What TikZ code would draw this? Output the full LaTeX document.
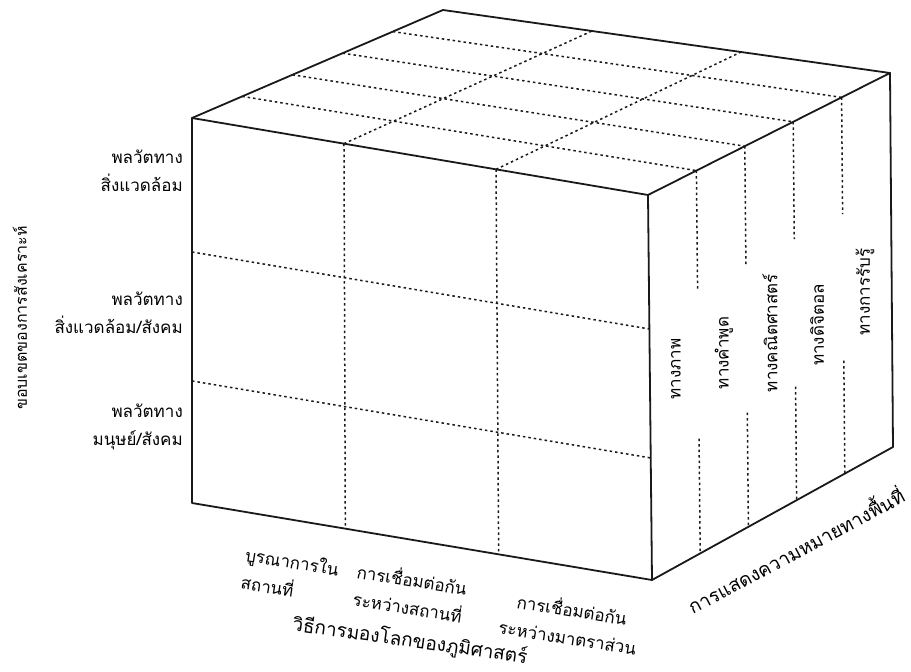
\documentclass[tikz,border=0pt]{standalone}
\usepackage{fontspec}
\newfontfamily\thaifont[Script=Thai]{Loma}
\usetikzlibrary{calc}
\begin{document}
\begin{tikzpicture}[x=1pt,y=-1pt,
  edge/.style={line width=1.8pt, black!90, line cap=round, line join=round},
  gridline/.style={line width=1.5pt, black!90, dash pattern=on 2.5pt off 3pt},
  lbl/.style={font=\thaifont\fontsize{17}{28}\selectfont, inner sep=0pt, align=center, text=black},
]
\useasboundingbox (0,0) rectangle (911,672);
% cube corners
\coordinate (FTL) at (192,118);
\coordinate (FTR) at (648,195);
\coordinate (FBL) at (192,503);
\coordinate (FBR) at (652,580);
\coordinate (BTL) at (443,10);
\coordinate (BTR) at (890,73);
\coordinate (BBR) at (893,447);
% front face grid
\foreach \f in {0.3333,0.6667}
  \draw[gridline] ($(FTL)!\f!(FTR)$) -- ($(FBL)!\f!(FBR)$);
\foreach \f in {0.348,0.683}
  \draw[gridline] ($(FTL)!\f!(FBL)$) -- ($(FTR)!\f!(FBR)$);
% top face grid
\foreach \f in {0.2,0.4,0.6,0.8}
  \draw[gridline] ($(FTL)!\f!(BTL)$) -- ($(FTR)!\f!(BTR)$);
\foreach \f in {0.3333,0.6667}
  \draw[gridline] ($(FTL)!\f!(FTR)$) -- ($(BTL)!\f!(BTR)$);
% right face partial lines
\foreach \f in {0.2,0.4,0.6,0.8}{
  \coordinate (rt) at ($(FTR)!\f!(BTR)$);
  \coordinate (rb) at ($(FBR)!\f!(BBR)$);
  \draw[gridline] (rt) -- ($(rt)!0.31!(rb)$);
  \draw[gridline] ($(rt)!0.70!(rb)$) -- (rb);
}
% cube edges
\draw[edge] (FTL) -- (FTR) -- (FBR) -- (FBL) -- cycle;
\draw[edge] (FTL) -- (BTL) -- (BTR) -- (FTR);
\draw[edge] (BTR) -- (BBR) -- (FBR);
% row labels
\node[lbl, align=right, anchor=east] (row1) at (183,171) {พลวัตทาง\\สิ่งแวดล้อม};
\node[lbl, align=right, anchor=east] (row2) at (183,313) {พลวัตทาง\\สิ่งแวดล้อม/สังคม};
\node[lbl, align=right, anchor=east] (row3) at (183,427) {พลวัตทาง\\มนุษย์/สังคม};
\node[lbl, rotate=90, font=\thaifont\fontsize{16}{20}\selectfont] (axisleft) at (20,318) {ขอบเขตของการสังเคราะห์};
% column labels
\node[lbl, align=left, rotate=-9] (col1) at (290,575) {บูรณาการใน\\สถานที่};
\node[lbl, rotate=-9] (col2) at (410,592) {การเชื่อมต่อกัน\\ระหว่างสถานที่};
\node[lbl, rotate=-9] (col3) at (570,622) {การเชื่อมต่อกัน\\ระหว่างมาตราส่วน};
\node[lbl, rotate=-8, font=\thaifont\fontsize{19}{22}\selectfont] (axisbottom) at (410,641) {วิธีการมองโลกของภูมิศาสตร์};
% depth labels
\node[lbl, rotate=90] (dep1) at (676,369) {ทางภาพ};
\node[lbl, rotate=90] (dep2) at (724,353) {ทางคำพูด};
\node[lbl, rotate=90] (dep3) at (770,333) {ทางคณิตศาสตร์};
\node[lbl, rotate=90] (dep4) at (817,325) {ทางดิจิตอล};
\node[lbl, rotate=90] (dep5) at (865,292) {ทางการรับรู้};
\node[lbl, rotate=28, font=\thaifont\fontsize{19}{22}\selectfont] (axisright) at (795,549) {การแสดงความหมายทางพื้นที่};
\end{tikzpicture}
\end{document}
